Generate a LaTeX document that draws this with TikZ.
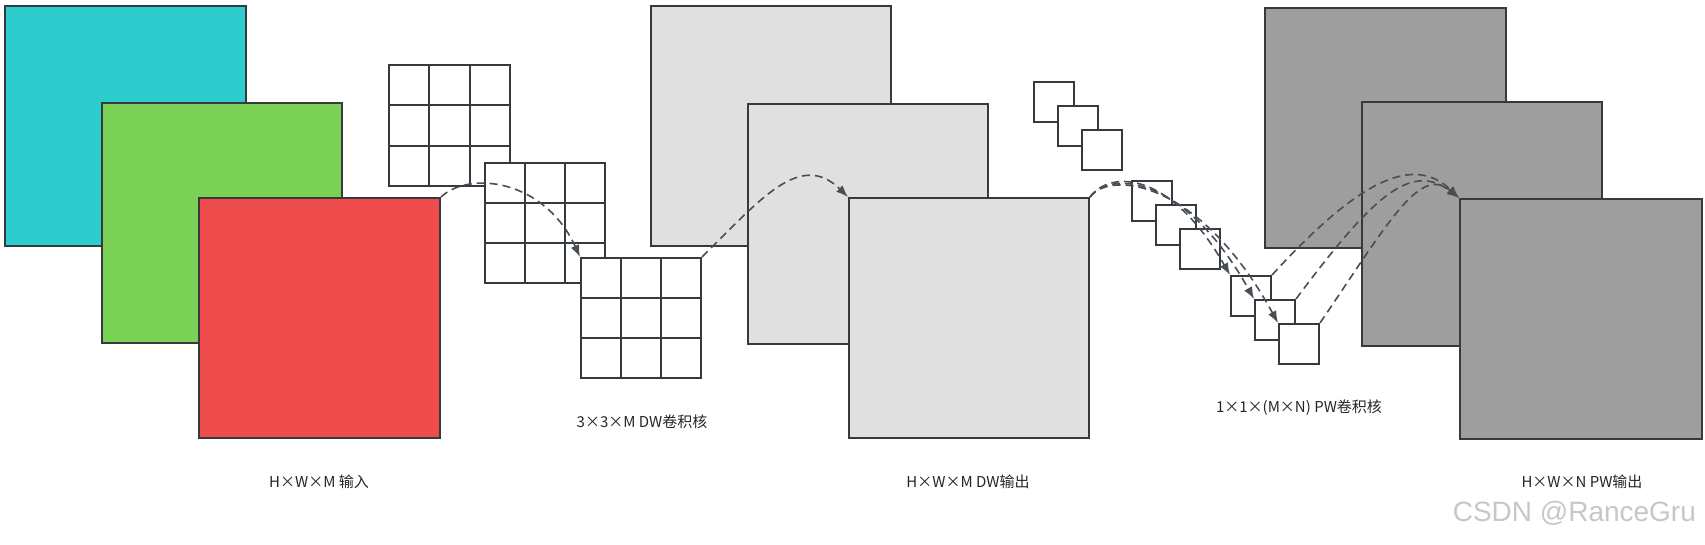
\documentclass[tikz,border=0pt]{standalone}
\usepackage{fontspec}
\setmainfont{Noto Sans CJK SC}
\newfontfamily\wmfont{Liberation Sans}
\usetikzlibrary{fit,calc,arrows.meta}
\definecolor{ln}{HTML}{343A40}
\definecolor{cyanc}{HTML}{2ECDCD}
\definecolor{greenc}{HTML}{7AD155}
\definecolor{redc}{HTML}{EF4D4D}
\definecolor{lgc}{HTML}{E0E0E0}
\definecolor{dgc}{HTML}{9E9E9E}
\tikzset{
  sheet/.style={draw=ln, line width=1pt, inner sep=0pt},
  kbox/.style={draw=ln, line width=1pt, fill=white, inner sep=0pt},
  gline/.style={draw=ln, line width=1pt},
  conn/.style={draw=ln!90, line width=0.8pt, dash pattern=on 4pt off 2.5pt},
  arr/.style={conn, -{Latex[length=6pt,width=4.5pt]}},
  lbl/.style={font=\fontsize{7.5}{9}\selectfont, text=black!85},
}
\newcommand{\gridlines}[1]{%
  \foreach \t in {0.3333,0.6667}{%
    \draw[gline] ($(#1.north west)!\t!(#1.north east)$) -- ($(#1.south west)!\t!(#1.south east)$);
    \draw[gline] ($(#1.north west)!\t!(#1.south west)$) -- ($(#1.north east)!\t!(#1.south east)$);
  }}
\begin{document}
\begin{tikzpicture}[x=0.5pt,y=-0.5pt]
\useasboundingbox (0,0) rectangle (1705,545);
% input
\node[sheet, fill=cyanc, fit={(5,6) (246,246)}] (c1) {};
\node[sheet, fill=greenc, fit={(102,103) (342,343)}] (c2) {};
\node[sheet, fill=redc, fit={(199,198) (440,438)}] (c3) {};
% DW kernels
\node[kbox, fit={(389,65) (510,186)}] (g1) {}; \gridlines{g1}
\node[kbox, fit={(485,163) (605,283)}] (g2) {}; \gridlines{g2}
\node[kbox, fit={(581,258) (701,378)}] (g3) {}; \gridlines{g3}
% DW output
\node[sheet, fill=lgc, fit={(651,6) (891,246)}] (d1) {};
\node[sheet, fill=lgc, fit={(748,104) (988,344)}] (d2) {};
\node[sheet, fill=lgc, fit={(849,198) (1089,438)}] (d3) {};
% PW kernels
\node[kbox, fit={(1034,82) (1074,122)}] (p1) {};
\node[kbox, fit={(1058,106) (1098,146)}] (p2) {};
\node[kbox, fit={(1082,130) (1122,170)}] (p3) {};
\node[kbox, fit={(1132,181) (1172,221)}] (q1) {};
\node[kbox, fit={(1156,205) (1196,245)}] (q2) {};
\node[kbox, fit={(1180,229) (1220,269)}] (q3) {};
% PW output
\node[sheet, fill=dgc, fit={(1265,8) (1506,248)}] (e1) {};
\node[sheet, fill=dgc, fit={(1362,102) (1602,346)}] (e2) {};
\node[kbox, fit={(1231,276) (1271,316)}] (r1) {};
\node[kbox, fit={(1255,300) (1295,340)}] (r2) {};
\node[kbox, fit={(1279,324) (1319,364)}] (r3) {};
\node[sheet, fill=dgc, fit={(1460,199) (1702,439)}] (e3) {};
% connectors
\draw[arr] (c3.north east) .. controls (470,170) and (545,180) .. (g3.north west);
\draw[arr] (g3.north east) .. controls (760,200) and (800,150) .. (d3.north west);
\draw[arr] (d3.north east) .. controls (1110,170) and (1170,170) .. (r1.north west);
\draw[arr] (d3.north east) .. controls (1110,170) and (1185,175) .. (r2.north west);
\draw[arr] (d3.north east) .. controls (1110,170) and (1200,180) .. (r3.north west);
\draw[arr] (r1.north east) .. controls (1350,190) and (1410,150) .. (e3.north west);
\draw[arr] (r2.north east) .. controls (1370,200) and (1410,160) .. (e3.north west);
\draw[arr] (r3.north east) .. controls (1390,220) and (1420,165) .. (e3.north west);
% labels
\node[lbl] (t1) at (319,482) {H×W×M 输入};
\node[lbl] (t2) at (642,422) {3×3×M DW卷积核};
\node[lbl] (t3) at (968,482) {H×W×M DW输出};
\node[lbl] (t4) at (1299,408) {1×1×(M×N) PW卷积核};
\node[lbl] (t5) at (1582,482) {H×W×N PW输出};
\node[font=\wmfont\fontsize{14}{16}\selectfont, text=black!22, anchor=east] (wm) at (1703,513) {CSDN @RanceGru};
\end{tikzpicture}
\end{document}
